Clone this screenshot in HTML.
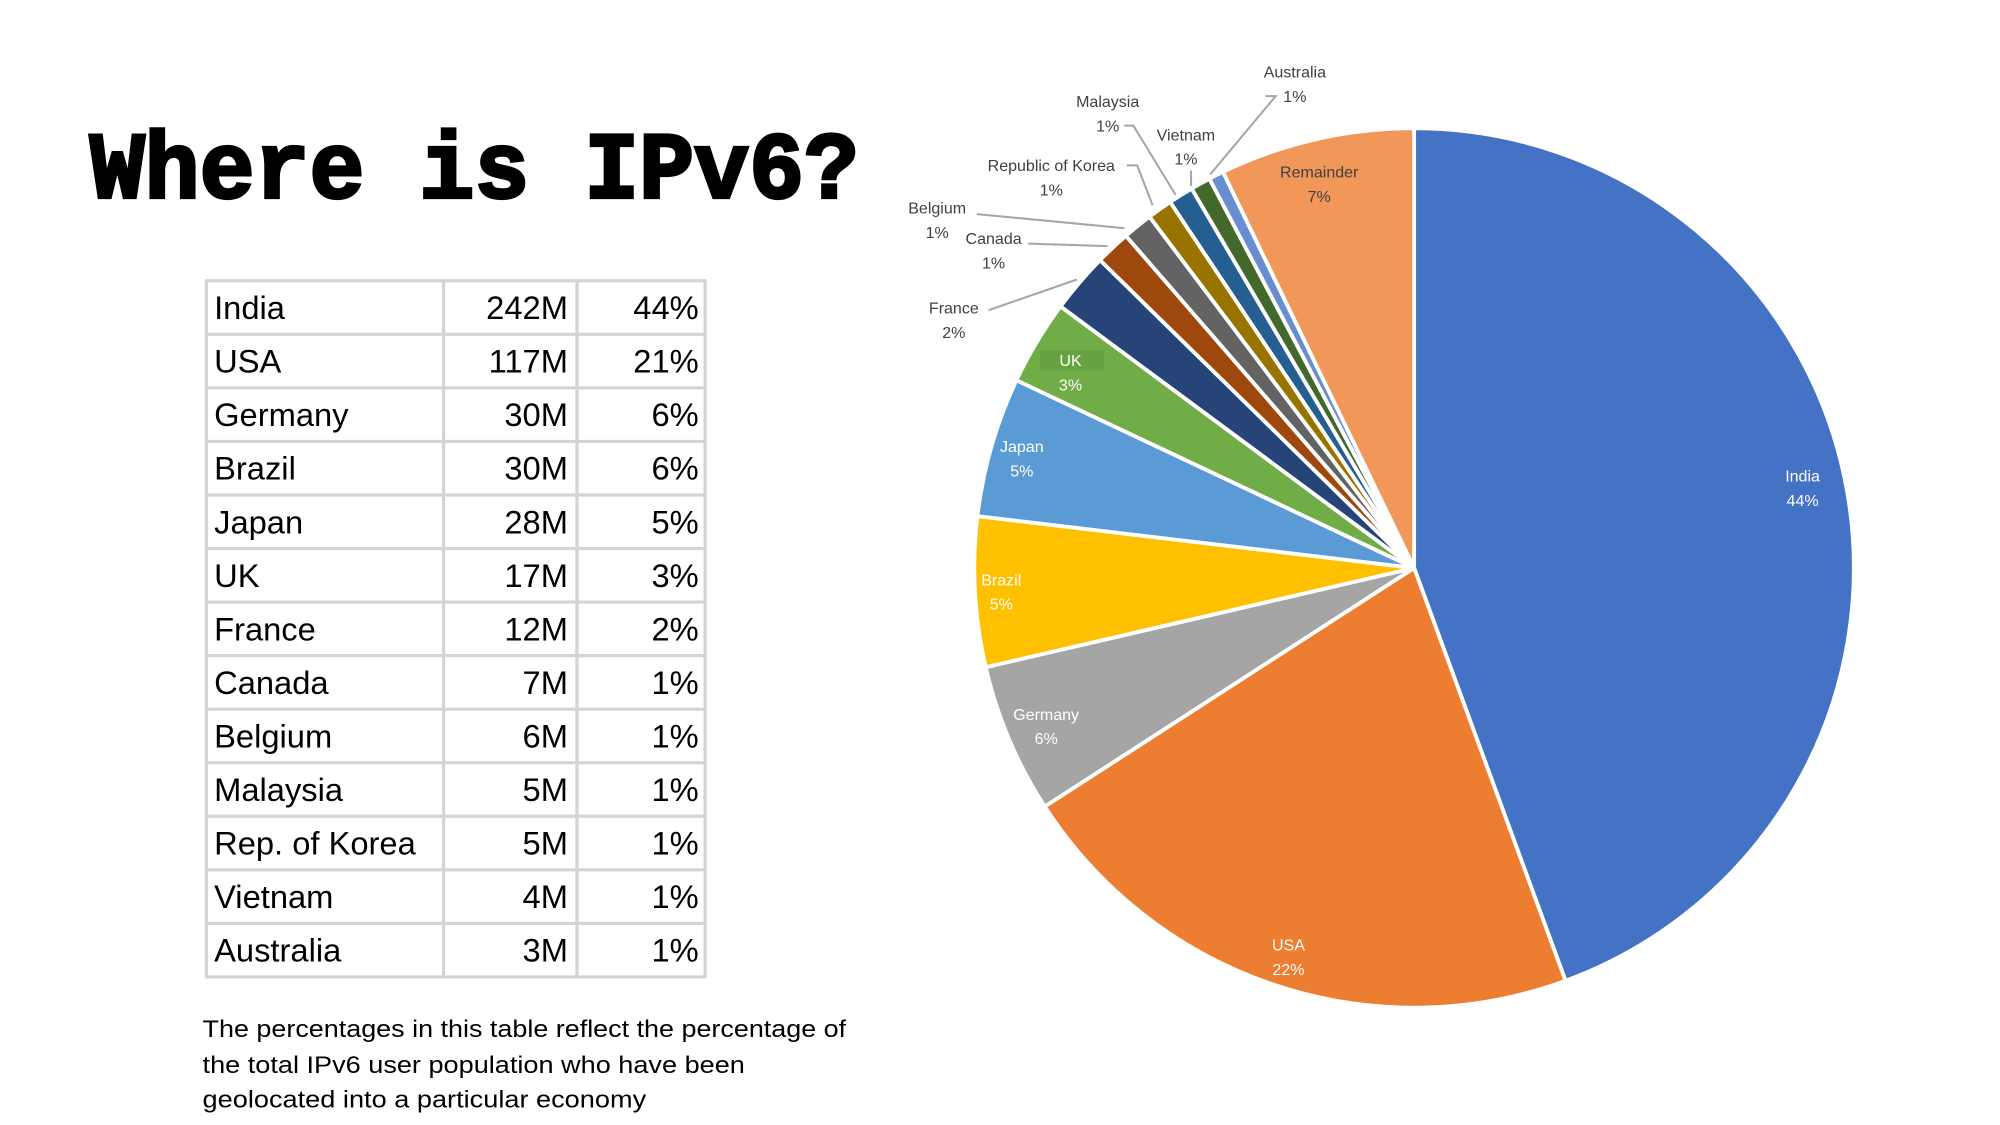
<!DOCTYPE html>
<html><head><meta charset="utf-8"><style>
html,body{margin:0;padding:0;background:#fff;width:2000px;height:1125px;overflow:hidden}
svg{display:block}
</style></head><body>
<svg id="s" width="2000" height="1125" viewBox="0 0 1560 877.5" xmlns="http://www.w3.org/2000/svg">
<rect width="1560" height="877.5" fill="#fff"/>
<text x="70" y="154" font-family="Liberation Mono, monospace" font-weight="bold" font-size="74" textLength="600" lengthAdjust="spacingAndGlyphs" fill="#000" stroke="#000" stroke-width="2.5">Where is IPv6?</text>
<g id="tbl"></g>
<g font-family="Liberation Sans, sans-serif" font-size="19" fill="#000">
<text x="158" y="809" textLength="502" lengthAdjust="spacingAndGlyphs">The percentages in this table reflect the percentage of</text>
<text x="158" y="837" textLength="423" lengthAdjust="spacingAndGlyphs">the total IPv6 user population who have been</text>
<text x="158" y="864" textLength="346" lengthAdjust="spacingAndGlyphs">geolocated into a particular economy</text>
</g>
<g id="pie"></g>
<g stroke="#a6a6a6" stroke-width="1.6" fill="none">
<polyline points="987,75 995,75 944,136"/>
<polyline points="877,98 884,98 917,152"/>
<polyline points="929,133 929,145"/>
<polyline points="879,129 887,129 899,160"/>
<polyline points="762,167 877,178"/>
<polyline points="802,190 864,192"/>
<polyline points="771,242 840,218"/>
</g>
<rect x="811" y="273" width="50" height="16" fill="#66a23f"/>
<g font-family="Liberation Sans, sans-serif" font-size="12.5" text-anchor="middle" id="lbl"></g>
</svg>
<script>
var NS="http://www.w3.org/2000/svg";
function el(p,t,a,txt){var e=document.createElementNS(NS,t);for(var k in a)e.setAttribute(k,a[k]);if(txt!=null)e.textContent=txt;p.appendChild(e);return e;}
// table
var rows=[["India","242M","44%"],["USA","117M","21%"],["Germany","30M","6%"],["Brazil","30M","6%"],["Japan","28M","5%"],["UK","17M","3%"],["France","12M","2%"],["Canada","7M","1%"],["Belgium","6M","1%"],["Malaysia","5M","1%"],["Rep. of Korea","5M","1%"],["Vietnam","4M","1%"],["Australia","3M","1%"]];
var T=document.getElementById("tbl"),top0=219,bot=762,rh=(bot-top0)/13;
for(var i=0;i<rows.length;i++){var y=top0+rh*i+rh/2+9;
el(T,"text",{x:167,y:y,"font-family":"Liberation Sans, sans-serif","font-size":25.5},rows[i][0]);
el(T,"text",{x:443,y:y,"font-family":"Liberation Sans, sans-serif","font-size":25.5,"text-anchor":"end"},rows[i][1]);
el(T,"text",{x:545,y:y,"font-family":"Liberation Sans, sans-serif","font-size":25.5,"text-anchor":"end"},rows[i][2]);}
for(var i=0;i<=13;i++){var y=top0+rh*i;el(T,"line",{x1:160,x2:551,y1:y,y2:y,stroke:"#d4d4d4","stroke-width":2.5});}
[161,346,450,550].forEach(function(x){el(T,"line",{x1:x,x2:x,y1:top0,y2:bot,stroke:"#d4d4d4","stroke-width":2.5});});
// pie
var vals=[242,117,30,30,28,17,12,7,6,5,5,4,3,39];
var cols=["#4472C4","#ED7D31","#A5A5A5","#FFC000","#5B9BD5","#70AD47","#264478","#9E480E","#636363","#997300","#255E91","#43682B","#698ED0","#F1975A"];
var sum=vals.reduce(function(a,b){return a+b},0),cx=1103,cy=443,r=343,a=0,P=document.getElementById("pie");
function pt(t,rr){return [cx+rr*Math.sin(t),cy-rr*Math.cos(t)];}
vals.forEach(function(v,i){var a2=a+v/sum*2*Math.PI,p1=pt(a,r),p2=pt(a2,r),lg=(a2-a)>Math.PI?1:0;
el(P,"path",{d:"M"+cx+","+cy+" L"+p1[0]+","+p1[1]+" A"+r+","+r+" 0 "+lg+" 1 "+p2[0]+","+p2[1]+" Z",fill:cols[i],stroke:"#fff","stroke-width":3,"stroke-linejoin":"round"});a=a2;});
var L=document.getElementById("lbl");
[["India","44%",1406,371,"#fff"],["USA","22%",1005,737,"#fff"],["Germany","6%",816,557,"#fff"],["Brazil","5%",781,452,"#fff"],["Japan","5%",797,348,"#fff"],["UK","3%",835,281,"#fff"],["Remainder","7%",1029,134,"#404040"],["France","2%",744,240,"#404040"],["Canada","1%",775,186,"#404040"],["Belgium","1%",731,162,"#404040"],["Republic of Korea","1%",820,129,"#404040"],["Malaysia","1%",864,79,"#404040"],["Vietnam","1%",925,105,"#404040"],["Australia","1%",1010,56,"#404040"]].forEach(function(d){
el(L,"text",{x:d[2],y:d[3]+4.5,fill:d[4]},d[0]);el(L,"text",{x:d[2],y:d[3]+23.5,fill:d[4]},d[1]);});
</script>
</body></html>
